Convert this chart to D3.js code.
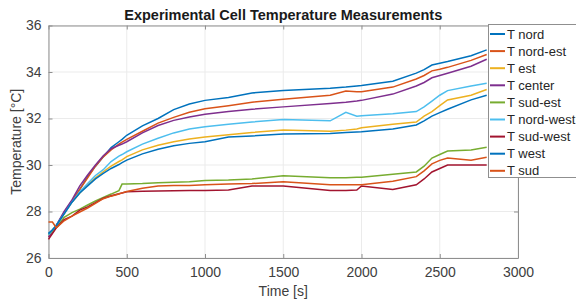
<!DOCTYPE html>
<html>
<head>
<meta charset="utf-8">
<script src="https://cdn.jsdelivr.net/npm/d3@7"></script>
<style>
  body { margin: 0; background: #fff; }
  svg { display: block; font-family: "Liberation Sans", Arial, sans-serif; }
</style>
</head>
<body>
<div id="viz"></div>
<script>
// Data, time in seconds, temperature in degC
const times = [0, 25, 50, 100, 150, 200, 250, 300, 350, 400, 450, 470, 500, 600, 700, 800, 900, 1000, 1150, 1300, 1500, 1800, 1900, 1970, 2000, 2200, 2350, 2400, 2450, 2500, 2550, 2700, 2800];

const tNord     = [27.05, 27.2, 27.4, 27.95, 28.45, 28.95, 29.5, 29.95, 30.35, 30.75, 31.0, 31.1, 31.28, 31.68, 32.0, 32.38, 32.62, 32.78, 32.9, 33.1, 33.2, 33.3, 33.35, 33.4, 33.42, 33.6, 33.95, 34.1, 34.3, 34.38, 34.45, 34.7, 34.95];
const tNordEst  = [26.9, 27.1, 27.35, 27.95, 28.45, 28.95, 29.45, 29.95, 30.35, 30.65, 30.9, 30.98, 31.1, 31.45, 31.8, 32.05, 32.27, 32.42, 32.55, 32.7, 32.83, 33.0, 33.18, 33.15, 33.15, 33.35, 33.7, 33.85, 34.05, 34.12, 34.2, 34.5, 34.75];
const tEst      = [27.0, 27.2, 27.4, 27.9, 28.4, 28.8, 29.15, 29.45, 29.71, 29.95, 30.15, 30.22, 30.36, 30.65, 30.85, 31.0, 31.12, 31.2, 31.3, 31.4, 31.5, 31.45, 31.5, 31.55, 31.6, 31.75, 31.85, 32.1, 32.3, 32.55, 32.8, 33.0, 33.25];
const tCenter   = [26.9, 27.1, 27.4, 28.0, 28.5, 29.1, 29.57, 30.0, 30.4, 30.7, 30.85, 30.9, 31.0, 31.38, 31.7, 31.92, 32.06, 32.18, 32.3, 32.4, 32.5, 32.65, 32.7, 32.75, 32.78, 33.05, 33.4, 33.55, 33.75, 33.85, 33.95, 34.25, 34.55];
const tSudEst   = [27.0, 27.15, 27.3, 27.75, 27.95, 28.1, 28.28, 28.45, 28.61, 28.75, 28.9, 29.18, 29.18, 29.2, 29.24, 29.26, 29.28, 29.33, 29.35, 29.4, 29.54, 29.45, 29.45, 29.47, 29.47, 29.6, 29.7, 29.95, 30.3, 30.45, 30.6, 30.65, 30.76];
const tNordWest = [27.0, 27.2, 27.4, 27.9, 28.4, 28.85, 29.2, 29.55, 29.8, 30.15, 30.38, 30.45, 30.57, 30.9, 31.15, 31.38, 31.55, 31.65, 31.75, 31.85, 31.96, 31.9, 32.27, 32.1, 32.12, 32.2, 32.3, 32.5, 32.75, 33.0, 33.2, 33.4, 33.52];
const tSudWest  = [26.8, 27.05, 27.3, 27.65, 27.8, 28.06, 28.2, 28.38, 28.57, 28.68, 28.76, 28.8, 28.85, 28.87, 28.88, 28.89, 28.9, 28.9, 28.92, 29.1, 29.1, 28.9, 28.9, 28.92, 29.1, 28.95, 29.15, 29.4, 29.7, 29.85, 30.0, 30.0, 30.0];
const tWest     = [27.05, 27.2, 27.4, 27.9, 28.4, 28.8, 29.1, 29.4, 29.64, 29.85, 30.02, 30.1, 30.21, 30.48, 30.68, 30.83, 30.93, 31.0, 31.2, 31.25, 31.33, 31.35, 31.4, 31.42, 31.43, 31.55, 31.72, 31.9, 32.1, 32.25, 32.4, 32.8, 33.0];
const tSud      = [27.55, 27.55, 27.3, 27.6, 27.8, 27.98, 28.15, 28.35, 28.55, 28.66, 28.75, 28.8, 28.86, 29.0, 29.1, 29.12, 29.12, 29.15, 29.18, 29.2, 29.28, 29.15, 29.15, 29.15, 29.15, 29.3, 29.5, 29.75, 30.05, 30.2, 30.3, 30.2, 30.33];

const seriesNames = ["T nord", "T nord-est", "T est", "T center", "T sud-est", "T nord-west", "T sud-west", "T west", "T sud"];
const seriesValues = [tNord, tNordEst, tEst, tCenter, tSudEst, tNordWest, tSudWest, tWest, tSud];
const seriesColors = ["#0072BD", "#D95319", "#EDB120", "#7E2F8E", "#77AC30", "#4DBEEE", "#A2142F", "#0072BD", "#D95319"];

const xTicks = [0, 500, 1000, 1500, 2000, 2500, 3000];
const yTicks = [26, 28, 30, 32, 34, 36];

const chartTitle = "Experimental Cell Temperature Measurements";
const xLabel = "Time [s]";
const yLabel = "Temperature [°C]";

// Geometry
const width = 576, height = 301;
const margin = {top: 25.5, right: 58, bottom: 43, left: 48.5};
const innerWidth = width - margin.left - margin.right;
const innerHeight = height - margin.top - margin.bottom;

const svg = d3.select("#viz").append("svg")
  .attr("width", width)
  .attr("height", height);

const g = svg.append("g")
  .attr("transform", "translate(" + margin.left + "," + margin.top + ")");

const xScale = d3.scaleLinear().domain([0, 3000]).range([0, innerWidth]);
const yScale = d3.scaleLinear().domain([26, 36]).range([innerHeight, 0]);

// Grid
g.append("g").selectAll("line").data(xTicks).enter().append("line")
  .attr("x1", d => xScale(d)).attr("x2", d => xScale(d))
  .attr("y1", 0).attr("y2", innerHeight)
  .attr("stroke", "#ebebeb").attr("stroke-width", 1);
g.append("g").selectAll("line").data(yTicks).enter().append("line")
  .attr("y1", d => yScale(d)).attr("y2", d => yScale(d))
  .attr("x1", 0).attr("x2", innerWidth)
  .attr("stroke", "#ebebeb").attr("stroke-width", 1);

// Axes (MATLAB style: ticks inside, box on)
g.append("g")
  .attr("transform", "translate(0," + innerHeight + ")")
  .call(d3.axisBottom(xScale).tickValues(xTicks).tickFormat(d3.format("d"))
    .tickSizeInner(-4).tickSizeOuter(0).tickPadding(9));
g.append("g")
  .call(d3.axisLeft(yScale).tickValues(yTicks).tickFormat(d3.format("d"))
    .tickSizeInner(-4).tickSizeOuter(0).tickPadding(7));
const rightAxis = g.append("g")
  .attr("transform", "translate(" + innerWidth + ",0)")
  .call(d3.axisRight(yScale).tickValues(yTicks).tickSizeInner(-4).tickSizeOuter(0));
rightAxis.selectAll("text").remove();
const topAxis = g.append("g")
  .call(d3.axisTop(xScale).tickValues(xTicks).tickSizeInner(-4).tickSizeOuter(0));
topAxis.selectAll("text").remove();

g.selectAll(".domain, .tick line").attr("stroke", "#8f8f8f");
g.selectAll(".tick text")
  .style("font-size", "14px")
  .attr("fill", "#404040");

// Lines
const lineGenerator = (vals) => d3.line()
  .x((d, i) => xScale(times[i]))
  .y(d => yScale(d))(vals);

seriesValues.forEach((vals, k) => {
  g.append("path")
    .attr("d", lineGenerator(vals))
    .attr("fill", "none")
    .attr("stroke", seriesColors[k])
    .attr("stroke-width", 1.5);
});

// Axis labels
svg.append("text")
  .attr("x", margin.left + innerWidth / 2)
  .attr("y", 296)
  .attr("text-anchor", "middle")
  .style("font-size", "14px")
  .attr("fill", "#404040")
  .text(xLabel);

svg.append("text")
  .attr("transform", "rotate(-90)")
  .attr("x", -(margin.top + innerHeight / 2))
  .attr("y", 21)
  .attr("text-anchor", "middle")
  .style("font-size", "14px")
  .attr("fill", "#404040")
  .text(yLabel);

// Title
svg.append("text")
  .attr("x", margin.left + innerWidth / 2)
  .attr("y", 19.5)
  .attr("text-anchor", "middle")
  .style("font-size", "14.5px")
  .style("font-weight", "bold")
  .attr("fill", "#1a1a1a")
  .text(chartTitle);

// Legend (its right part runs past the window edge, as in the reference)
const legend = svg.append("g").attr("transform", "translate(488,24)");
legend.append("rect")
  .attr("x", 0.5).attr("y", 0.5)
  .attr("width", 110).attr("height", 153)
  .attr("fill", "#fff")
  .attr("stroke", "#8f8f8f");
const rowH = 17.1;
seriesNames.forEach((name, k) => {
  const yy = 10 + k * rowH;
  legend.append("line")
    .attr("x1", 2).attr("x2", 17)
    .attr("y1", yy).attr("y2", yy)
    .attr("stroke", seriesColors[k]).attr("stroke-width", 2);
  legend.append("text")
    .attr("x", 19).attr("y", yy + 4.5)
    .style("font-size", "13px")
    .attr("fill", "#262626")
    .text(name);
});
</script>
</body>
</html>
